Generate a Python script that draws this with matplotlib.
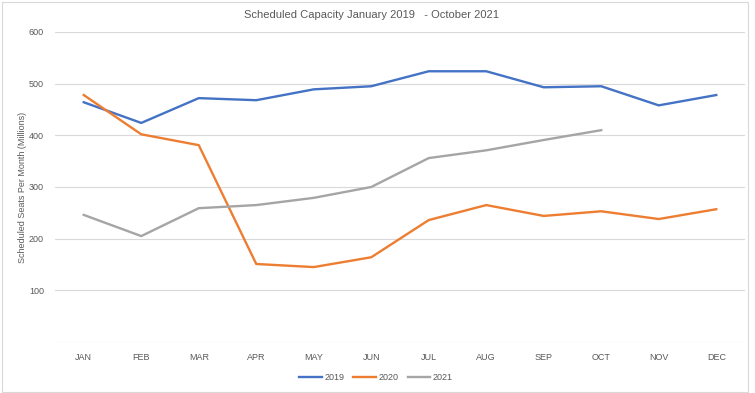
import matplotlib
matplotlib.use('Agg')
import matplotlib.pyplot as plt
from matplotlib.patches import Rectangle

plt.rcParams['font.family'] = ['Liberation Sans Narrow', 'Liberation Sans', 'DejaVu Sans']

months = ['JAN', 'FEB', 'MAR', 'APR', 'MAY', 'JUN', 'JUL', 'AUG', 'SEP', 'OCT', 'NOV', 'DEC']
seats_2019 = [464, 424, 472, 468, 489, 495, 524, 524, 493, 495, 458, 478]
seats_2020 = [478, 402, 381, 151, 145, 164, 236, 265, 244, 253, 238, 257]
seats_2021 = [246, 205, 259, 265, 279, 300, 356, 371, 391, 410]

txt = '#595959'

fig = plt.figure(figsize=(7.55, 3.93), dpi=100)
ax = fig.add_axes([55/755, 1-342/393, 690/755, 310/393])

x = list(range(len(months)))
ax.plot(x, seats_2019, color='#4472C4', lw=1.7, label='2019')
ax.plot(x, seats_2020, color='#ED7D31', lw=1.7, label='2020')
ax.plot(x[:len(seats_2021)], seats_2021, color='#A5A5A5', lw=1.7, label='2021')

ax.set_xlim(-0.5, 11.5)
ax.set_ylim(0, 600)
ax.set_yticks([0, 100, 200, 300, 400, 500, 600])
ax.set_yticklabels(['', '100', '200', '300', '400', '500', '600'])
ax.set_xticks(x)
ax.set_xticklabels(months)
ax.grid(axis='y', color='#D9D9D9', lw=0.8)
ax.set_axisbelow(True)
for s in ax.spines.values():
    s.set_visible(False)
ax.tick_params(length=0, labelsize=6.5, colors=txt)
ax.tick_params(axis='y', pad=8)
ax.tick_params(axis='x', pad=8)

ax.set_ylabel('Scheduled Seats Per Month (Millions)', fontsize=6.5, color=txt)
ax.yaxis.set_label_coords(-28/690, 0.5)
fig.text(372/755, 1-15/393, 'Scheduled Capacity January 2019   - October 2021',
         ha='center', va='center', fontsize=8, color=txt)

fig.legend(loc='center', bbox_to_anchor=(376/755, 1-378/393), ncol=3, frameon=False,
           fontsize=6.5, labelcolor=txt, handlelength=2.5, columnspacing=1.0, handletextpad=0.3)

fig.patches.append(Rectangle((2/755, 1/393), 746/755, 390/393, transform=fig.transFigure,
                             fill=False, edgecolor='#D9D9D9', lw=0.8))

fig.savefig('out.png', dpi=100)
